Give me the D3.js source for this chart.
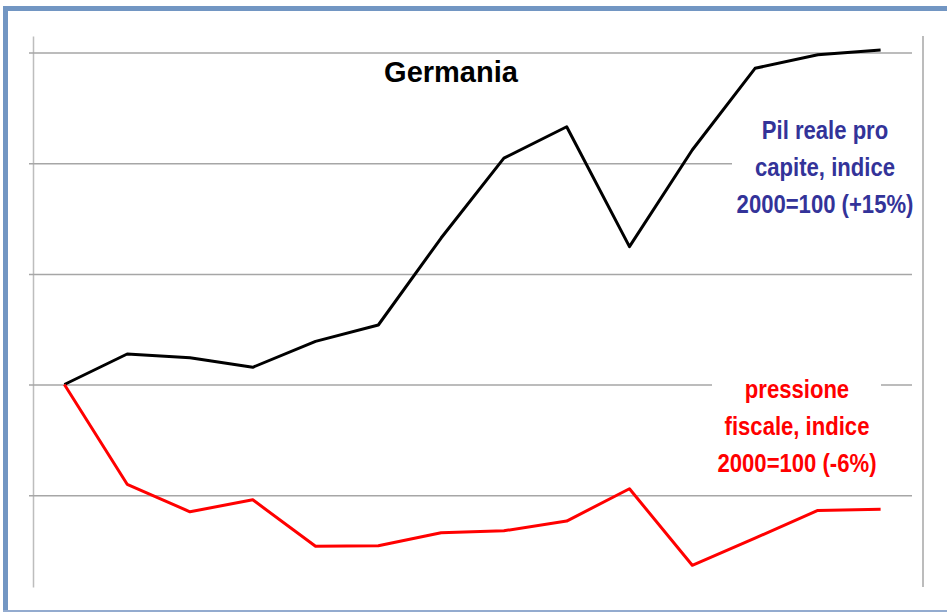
<!DOCTYPE html>
<meta charset="utf-8">
<script src="https://d3js.org/d3.v7.min.js"></script>
<style>
  body { margin: 0; background: #fff; }
  .axis path { stroke: #bdbdbd; stroke-width: 1.5px; }
  .axis line { stroke: #a6a6a6; stroke-width: 1.5px; }
  .axis text { display: none; }
  .label { font-family: "Liberation Sans", Arial, sans-serif; font-weight: bold; }
</style>
<body></body>
<script>

// anni 2000-2013, indici 2000=100
var years = [2000, 2001, 2002, 2003, 2004, 2005, 2006, 2007, 2008, 2009, 2010, 2011, 2012, 2013];
var pil = [100, 101.38, 101.21, 100.78, 101.95, 102.69, 106.62, 110.23, 111.65, 106.23, 110.60, 114.29, 114.90, 115.12];
var pressione = [100, 95.49, 94.25, 94.79, 92.69, 92.71, 93.30, 93.39, 93.83, 95.29, 91.83, 93.06, 94.31, 94.36];
var yTicks = [95, 100, 105, 110, 115];

var title = "Germania";
var pilLabel = ["Pil reale pro", "capite, indice", "2000=100 (+15%)"];
var pressLabel = ["pressione", "fiscale, indice", "2000=100 (-6%)"];

var W = 947, H = 612;
var svg = d3.select("body").append("svg")
    .attr("width", W)
    .attr("height", H);

// cornice
svg.append("line").attr("x1", 5.5).attr("x2", W).attr("y1", 8.5).attr("y2", 8.5)
    .attr("stroke", "#7296c3").attr("stroke-width", 5);
svg.append("line").attr("x1", 5.5).attr("x2", 5.5).attr("y1", 6).attr("y2", H)
    .attr("stroke", "#7296c3").attr("stroke-width", 5);
svg.append("line").attr("x1", 3).attr("x2", W).attr("y1", 611).attr("y2", 611)
    .attr("stroke", "#93abcf").attr("stroke-width", 2);

var x = d3.scaleBand()
    .domain(years)
    .range([33, 912]);

var y = d3.scaleLinear()
    .domain([90.85, 115.75])
    .range([587, 36]);

var yAxis = d3.axisLeft(y)
    .tickValues(yTicks)
    .tickSize(-(912 - 33))
    .tickSizeOuter(0);

var gy = svg.append("g")
    .attr("class", "axis")
    .attr("transform", "translate(33,0)")
    .call(yAxis);
gy.selectAll(".tick line").attr("x1", -4);

// linea verticale a destra
svg.append("line")
    .attr("x1", 923).attr("x2", 923)
    .attr("y1", y.range()[1]).attr("y2", y.range()[0])
    .attr("stroke", "#a6a6a6").attr("stroke-width", 1.5);

var line = d3.line()
    .x(function(d, i) { return x(years[i]) + x.bandwidth() / 2; })
    .y(function(d) { return y(d); });

svg.append("path")
    .datum(pil)
    .attr("d", line)
    .attr("fill", "none")
    .attr("stroke", "#000")
    .attr("stroke-width", 3)
    .attr("stroke-linejoin", "round");

svg.append("path")
    .datum(pressione)
    .attr("d", line)
    .attr("fill", "none")
    .attr("stroke", "#ff0000")
    .attr("stroke-width", 3)
    .attr("stroke-linejoin", "round");

// titolo
svg.append("text")
    .attr("class", "label")
    .attr("x", 451)
    .attr("y", 82)
    .attr("text-anchor", "middle")
    .style("font-size", "29px")
    .attr("fill", "#000")
    .text(title);

// etichette con sfondo bianco
function addLabel(lines, cx, y0, color, box) {
  svg.append("rect")
    .attr("x", box[0]).attr("y", box[1])
    .attr("width", box[2]).attr("height", box[3])
    .attr("fill", "#fff");
  var g = svg.append("g")
    .attr("transform", "translate(" + cx + "," + y0 + ") scale(0.85,1)");
  g.selectAll("text")
    .data(lines).enter().append("text")
    .attr("class", "label")
    .attr("text-anchor", "middle")
    .attr("y", function(d, i) { return i * 37; })
    .style("font-size", "26px")
    .attr("fill", color)
    .text(function(d) { return d; });
}

addLabel(pilLabel, 825, 139, "#333399", [732, 110, 186, 115]);
addLabel(pressLabel, 797, 398, "#ff0000", [712, 372, 169, 110]);

</script>
